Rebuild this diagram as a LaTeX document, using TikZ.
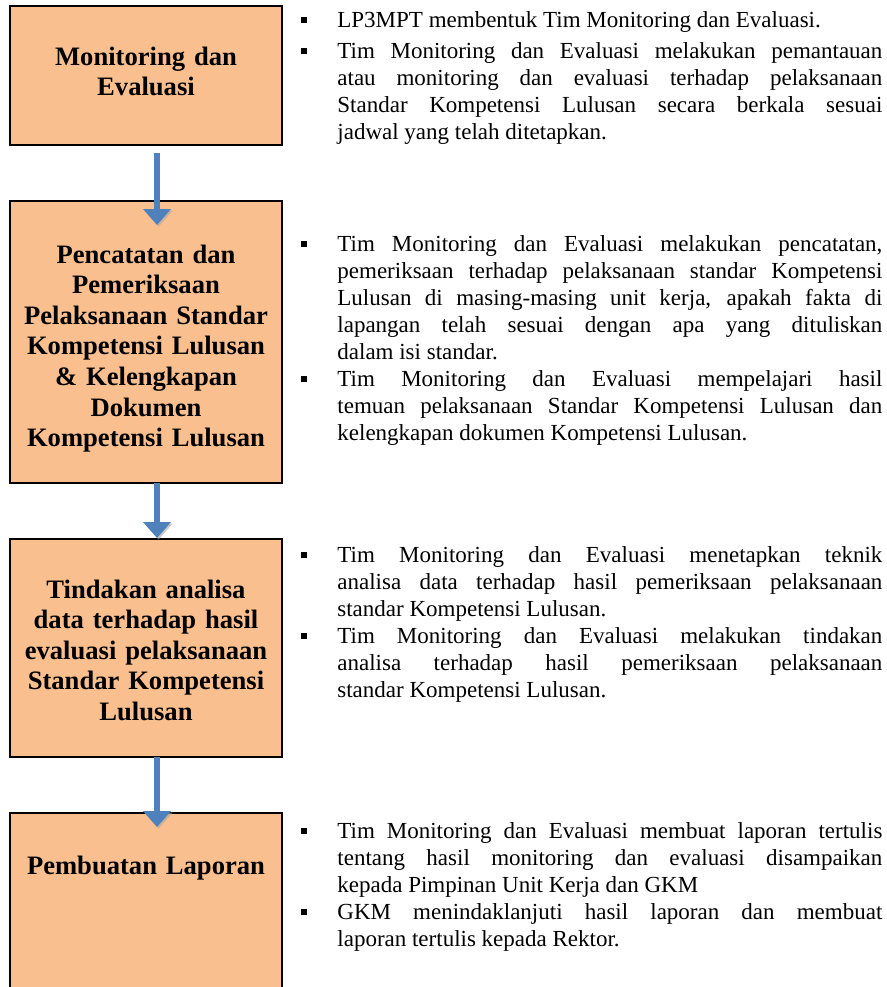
\documentclass[tikz,border=0pt]{standalone}
\usepackage{fontspec}
\setmainfont{Liberation Serif}
\usetikzlibrary{arrows.meta}

\definecolor{boxorange}{RGB}{250,191,143}
\definecolor{flowblue}{RGB}{79,129,189}

% square bullet with hanging indent
\newcommand{\poin}{\par\noindent\hangindent=18pt\hangafter=1\makebox[18pt][l]{\rule[2.2pt]{2.8pt}{2.8pt}}}

\tikzset{
  stepbox/.style={draw=black,line width=1pt,fill=boxorange,minimum width=136pt,anchor=north,inner sep=0pt,outer sep=0pt},
  steptext/.style={anchor=base,text width=132pt,align=center,inner sep=0pt,font=\fontsize{13.3}{15.3}\selectfont\bfseries},
  desc/.style={anchor=base west,text width=290.5pt,align=justify,inner sep=0pt,font=\fontsize{11.5}{13.5}\selectfont},
  flow/.style={flowblue,line width=3pt,-{Triangle[width=13.5pt,length=8pt]},
    preaction={draw=black!35,opacity=.6,transform canvas={shift={(.8pt,-.8pt)}}}}
}

\begin{document}
\begin{tikzpicture}[x=0.5pt,y=-0.5pt]
    \useasboundingbox (0,0) rectangle (887,987);
    % boxes ====================================================
    \node[stepbox,minimum height=69.5pt]  (mon)  at (146,6)   {};
    \node[stepbox,minimum height=140.75pt] (cat) at (146,201) {};
    \node[stepbox,minimum height=108.75pt] (ana) at (146,539) {};
    \node[stepbox,minimum height=150pt]   (lap)  at (146,813) {};
    \node[steptext] (mon-t) at (146,65)  {Monitoring dan\\Evaluasi};
    \node[steptext] (cat-t) at (146,263) {Pencatatan dan\\Pemeriksaan\\Pelaksanaan Standar\\Kompetensi Lulusan\\\& Kelengkapan\\Dokumen\\Kompetensi Lulusan};
    \node[steptext] (ana-t) at (146,598) {Tindakan analisa\\data terhadap hasil\\evaluasi pelaksanaan\\Standar Kompetensi\\Lulusan};
    \node[steptext] (lap-t) at (146,874) {Pembuatan Laporan};
    % arrows ===================================================
    \draw[flow] ([xshift=5.5pt,yshift=-4pt]mon.south) -- ([xshift=5.5pt,yshift=-12pt]cat.north);
    \draw[flow] ([xshift=5.5pt]cat.south) -- ([xshift=5.5pt,yshift=.5pt]ana.north);
    \draw[flow] ([xshift=5.5pt]ana.south) -- ([xshift=5.5pt,yshift=-7pt]lap.north);
    % descriptions =============================================
    \node[desc] (mon-d) at (301,0) {%
      \poin LP3MPT membentuk Tim Monitoring dan Evaluasi.\par\vspace{2pt}
      \poin Tim Monitoring dan Evaluasi melakukan pemantauan\linebreak atau monitoring dan evaluasi terhadap pelaksanaan\linebreak Standar Kompetensi Lulusan secara berkala sesuai\linebreak jadwal yang telah ditetapkan.\par};
    \node[desc] (cat-d) at (301,224) {%
      \poin Tim Monitoring dan Evaluasi melakukan pencatatan,\linebreak pemeriksaan terhadap pelaksanaan standar Kompetensi\linebreak Lulusan di masing-masing unit kerja, apakah fakta di\linebreak lapangan telah sesuai dengan apa yang dituliskan\linebreak dalam isi standar.
      \poin Tim Monitoring dan Evaluasi mempelajari hasil\linebreak temuan pelaksanaan Standar Kompetensi Lulusan dan\linebreak kelengkapan dokumen Kompetensi Lulusan.\par};
    \node[desc] (ana-d) at (301,535) {%
      \poin Tim Monitoring dan Evaluasi menetapkan teknik\linebreak analisa data terhadap hasil pemeriksaan pelaksanaan\linebreak standar Kompetensi Lulusan.
      \poin Tim Monitoring dan Evaluasi melakukan tindakan\linebreak analisa terhadap hasil pemeriksaan pelaksanaan\linebreak standar Kompetensi Lulusan.\par};
    \node[desc] (lap-d) at (301,811) {%
      \poin Tim Monitoring dan Evaluasi membuat laporan tertulis\linebreak tentang hasil monitoring dan evaluasi disampaikan\linebreak kepada Pimpinan Unit Kerja dan GKM
      \poin GKM menindaklanjuti hasil laporan dan membuat\linebreak laporan tertulis kepada Rektor.\par};
\end{tikzpicture}
\end{document}
